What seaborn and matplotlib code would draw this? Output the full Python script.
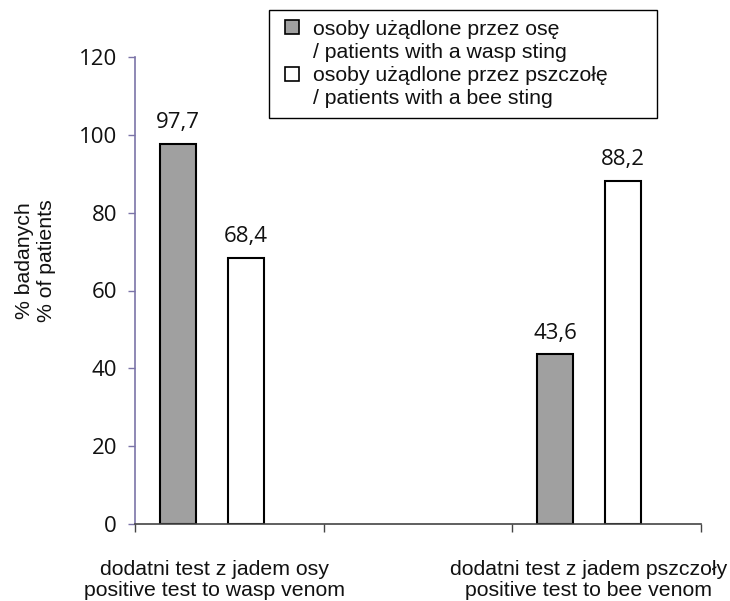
import matplotlib
matplotlib.use("Agg")
import matplotlib.pyplot as plt
from matplotlib.lines import Line2D
import seaborn as sns
import pandas as pd

# ---- data ----
categories = ["dodatni test z jadem osy\npositive test to wasp venom",
              "dodatni test z jadem pszczoły\npositive test to bee venom"]
groups = ["osoby użądlone przez osę\n/ patients with a wasp sting",
          "osoby użądlone przez pszczołę\n/ patients with a bee sting"]
wasp_sting = [97.7, 43.6]
bee_sting = [68.4, 88.2]
y_ticks = [0, 20, 40, 60, 80, 100, 120]

df = pd.DataFrame({
    "test": categories * 2,
    "grupa": [groups[0]] * 2 + [groups[1]] * 2,
    "pct": wasp_sting + bee_sting,
})

sns.set_theme(style="white")
plt.rcParams["font.family"] = ["Liberation Sans", "DejaVu Sans"]

FS = 15.3
fig = plt.figure(figsize=(7.3, 6.01), dpi=100)
ax = fig.add_axes([135 / 730, 1 - 524 / 601, (701 - 135) / 730, (524 - 57) / 601])

order = [categories[0], " ", categories[1]]
sns.barplot(data=df, x="test", y="pct", hue="grupa", order=order,
            hue_order=groups, palette={groups[0]: "#a0a0a0", groups[1]: "white"},
            width=0.72, gap=0.47, edgecolor="black", linewidth=1.5,
            legend=False, ax=ax, errorbar=None, saturation=1)

for p in ax.patches:
    p.set_x(p.get_x() - 0.0925)

num_font = "Open Sans"
for cont in ax.containers:
    ax.bar_label(cont, fmt=lambda v: f"{v:.1f}".replace(".", ","), padding=7.5,
                 fontsize=16, family=num_font, color="#111111")

ax.set_ylim(0, 120)
ax.set_xlim(-0.5, 2.5)
ax.set_yticks(y_ticks)
ax.set_yticklabels([str(t) for t in y_ticks], family=num_font, fontsize=16, color="#111111")

ax.set_xticks([-0.5, 0.5, 1.5, 2.5])
ax.set_xticklabels([])
ax.set_xticks([-0.079, 1.903], minor=True)
ax.set_xticklabels(categories, minor=True, fontsize=FS, color="#111111", linespacing=1.1)
ax.tick_params(axis="x", which="minor", length=0, pad=26)
ax.tick_params(axis="x", which="major", length=6, width=1, color="#444444", direction="out", bottom=True)
ax.tick_params(axis="y", which="major", length=5, width=1, color="#7b74a8", direction="out", pad=8, left=True)
ax.set_xlabel("")

ax.set_ylabel("% badanych\n% of patients", fontsize=FS, color="#111111")
ax.yaxis.set_label_coords(-0.14, 0.565)

for s in ["top", "right"]:
    ax.spines[s].set_visible(False)
ax.spines["left"].set_color("#7b74a8")
ax.spines["left"].set_linewidth(1.2)
ax.spines["bottom"].set_color("#444444")
ax.spines["bottom"].set_linewidth(1.2)

handles = [
    Line2D([], [], linestyle="none", marker="s", markersize=10.5,
           markerfacecolor="#a0a0a0", markeredgecolor="black", markeredgewidth=1.2),
    Line2D([], [], linestyle="none"),
    Line2D([], [], linestyle="none", marker="s", markersize=10.5,
           markerfacecolor="white", markeredgecolor="black", markeredgewidth=1.2),
    Line2D([], [], linestyle="none"),
]
labels = [groups[0].split("\n")[0], groups[0].split("\n")[1],
          groups[1].split("\n")[0], groups[1].split("\n")[1]]
leg = fig.legend(handles, labels, loc="upper left",
                 bbox_to_anchor=(269 / 730, 1 - 121 / 601, (657 - 269) / 730, (121 - 10) / 601),
                 mode="expand", borderaxespad=0, fontsize=FS, frameon=True, fancybox=False,
                 edgecolor="black", framealpha=1, borderpad=0.45, labelspacing=0.2,
                 handlelength=1.3, handletextpad=0.32)
leg.get_frame().set_linewidth(1.0)
for t in leg.get_texts():
    t.set_color("#111111")

fig.savefig("out.png", dpi=100)
